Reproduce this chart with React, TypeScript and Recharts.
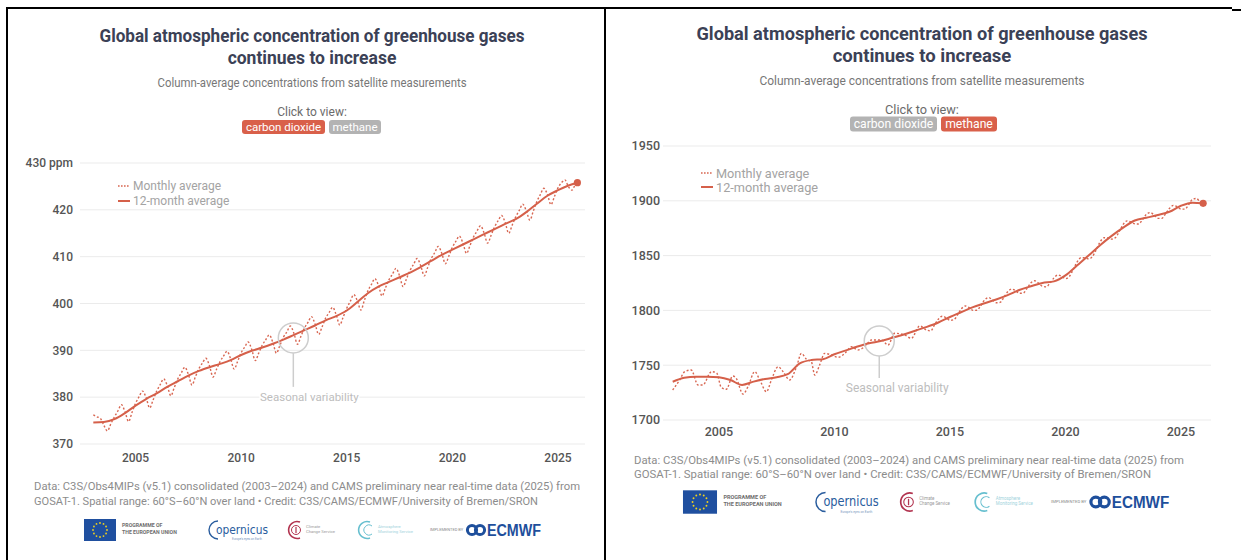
import React from 'react';
import { LineChart, Line, XAxis, YAxis, CartesianGrid, ReferenceDot, ReferenceLine } from 'recharts';

const yearTicks = [2005, 2010, 2015, 2020, 2025];
const co2Ticks = [370, 380, 390, 400, 410, 420, 430];
const ch4Ticks = [1700, 1750, 1800, 1850, 1900, 1950];

// [decimal year, ppm]
const co2Monthly: [number, number][] = [
  [2003.0, 376.2], [2003.17, 375.8], [2003.33, 375.5], [2003.5, 374.0], [2003.67, 372.8], [2003.83, 374.3],
  [2004.0, 375.8], [2004.17, 377.1], [2004.33, 378.4], [2004.5, 376.9], [2004.67, 374.8], [2004.83, 376.7],
  [2005.0, 378.7], [2005.17, 380.1], [2005.33, 381.3], [2005.5, 379.9], [2005.67, 377.7], [2005.83, 379.4],
  [2006.0, 381.3], [2006.17, 382.7], [2006.33, 383.9], [2006.5, 382.5], [2006.67, 380.3], [2006.83, 382.0],
  [2007.0, 383.9], [2007.17, 385.2], [2007.33, 386.4], [2007.5, 384.9], [2007.67, 382.6], [2007.83, 384.3],
  [2008.0, 386.1], [2008.17, 387.3], [2008.33, 388.3], [2008.5, 386.7], [2008.67, 384.3], [2008.83, 385.9],
  [2009.0, 387.6], [2009.17, 388.8], [2009.33, 389.8], [2009.5, 388.2], [2009.67, 386.0], [2009.83, 387.6],
  [2010.0, 389.5], [2010.17, 390.7], [2010.33, 391.8], [2010.5, 390.2], [2010.67, 387.8], [2010.83, 389.4],
  [2011.0, 391.1], [2011.17, 392.3], [2011.33, 393.3], [2011.5, 391.7], [2011.67, 389.4], [2011.83, 391.0],
  [2012.0, 392.8], [2012.17, 394.0], [2012.33, 395.2], [2012.5, 393.6], [2012.67, 391.3], [2012.83, 393.0],
  [2013.0, 394.8], [2013.17, 396.0], [2013.33, 397.2], [2013.5, 395.6], [2013.67, 393.4], [2013.83, 395.0],
  [2014.0, 396.9], [2014.17, 398.1], [2014.33, 399.2], [2014.5, 397.6], [2014.67, 395.4], [2014.83, 397.1],
  [2015.0, 399.0], [2015.17, 400.5], [2015.33, 401.9], [2015.5, 400.6], [2015.67, 398.6], [2015.83, 400.6],
  [2016.0, 402.7], [2016.17, 404.1], [2016.33, 405.3], [2016.5, 403.9], [2016.67, 401.6], [2016.83, 403.3],
  [2017.0, 405.1], [2017.17, 406.3], [2017.33, 407.5], [2017.5, 405.9], [2017.67, 403.6], [2017.83, 405.3],
  [2018.0, 407.1], [2018.17, 408.4], [2018.33, 409.6], [2018.5, 408.1], [2018.67, 405.9], [2018.83, 407.7],
  [2019.0, 409.6], [2019.17, 410.9], [2019.33, 412.2], [2019.5, 410.7], [2019.67, 408.5], [2019.83, 410.1],
  [2020.0, 412.0], [2020.17, 413.3], [2020.33, 414.4], [2020.5, 412.9], [2020.67, 410.7], [2020.83, 412.3],
  [2021.0, 414.2], [2021.17, 415.5], [2021.33, 416.6], [2021.5, 415.1], [2021.67, 412.9], [2021.83, 414.5],
  [2022.0, 416.4], [2022.17, 417.7], [2022.33, 418.8], [2022.5, 417.3], [2022.67, 415.0], [2022.83, 416.7],
  [2023.0, 418.5], [2023.17, 419.9], [2023.33, 421.2], [2023.5, 419.8], [2023.67, 417.8], [2023.83, 419.7],
  [2024.0, 421.8], [2024.17, 423.3], [2024.33, 424.6], [2024.5, 423.3], [2024.67, 421.1], [2024.83, 422.8],
  [2025.0, 424.7], [2025.17, 425.8], [2025.33, 426.4], [2025.5, 424.9], [2025.67, 424.2], [2025.83, 425.5],
  [2025.92, 425.7],
];

const co2Annual: [number, number][] = [
  [2003.0, 374.6], [2003.5, 374.7], [2004.0, 375.3], [2004.5, 376.6], [2005.0, 378.2], [2005.5, 379.6],
  [2006.0, 380.8], [2006.5, 382.2], [2007.0, 383.4], [2007.5, 384.6], [2008.0, 385.6], [2008.5, 386.4],
  [2009.0, 387.1], [2009.5, 387.9], [2010.0, 389.0], [2010.5, 389.9], [2011.0, 390.6], [2011.5, 391.4],
  [2012.0, 392.3], [2012.5, 393.3], [2013.0, 394.3], [2013.5, 395.3], [2014.0, 396.4], [2014.5, 397.3],
  [2015.0, 398.5], [2015.5, 400.3], [2016.0, 402.2], [2016.5, 403.6], [2017.0, 404.6], [2017.5, 405.6],
  [2018.0, 406.6], [2018.5, 407.8], [2019.0, 409.1], [2019.5, 410.4], [2020.0, 411.5], [2020.5, 412.6],
  [2021.0, 413.7], [2021.5, 414.8], [2022.0, 415.9], [2022.5, 417.0], [2023.0, 418.0], [2023.5, 419.5],
  [2024.0, 421.3], [2024.5, 423.0], [2025.0, 424.2], [2025.5, 425.2], [2025.92, 425.8],
];

// [decimal year, ppb]
const ch4Monthly: [number, number][] = [
  [2003.0, 1727.4], [2003.3, 1736.5], [2003.52, 1744.1], [2003.8, 1745.6], [2004.1, 1731.9], [2004.3, 1731.9],
  [2004.68, 1744.1], [2004.9, 1743.0], [2005.1, 1729.8], [2005.32, 1728.0], [2005.6, 1740.1], [2005.75, 1738.0],
  [2006.04, 1723.7], [2006.26, 1730.4], [2006.55, 1744.1], [2006.77, 1736.5], [2007.06, 1725.8], [2007.27, 1736.5],
  [2007.56, 1748.6], [2007.78, 1744.1], [2008.06, 1736.5], [2008.36, 1748.6], [2008.57, 1760.8], [2008.79, 1755.4],
  [2009.0, 1753.2], [2009.15, 1741.0], [2009.36, 1750.2], [2009.58, 1760.8], [2009.87, 1759.3], [2010.16, 1757.2],
  [2010.45, 1760.8], [2010.74, 1766.9], [2011.02, 1763.9], [2011.31, 1766.9], [2011.6, 1773.0], [2012.03, 1773.0],
  [2012.32, 1768.4], [2012.61, 1779.1], [2013.04, 1777.6], [2013.33, 1774.5], [2013.69, 1785.8], [2014.0, 1782.0],
  [2014.17, 1781.3], [2014.33, 1786.7], [2014.5, 1792.0], [2014.67, 1794.7], [2014.83, 1793.3],
  [2015.0, 1791.0], [2015.17, 1791.5], [2015.33, 1796.0], [2015.5, 1801.5], [2015.67, 1804.0], [2015.83, 1802.5],
  [2016.0, 1800.0], [2016.17, 1800.2], [2016.33, 1804.3], [2016.5, 1809.5], [2016.67, 1811.7], [2016.83, 1809.8],
  [2017.0, 1807.0], [2017.17, 1807.3], [2017.33, 1811.7], [2017.5, 1817.0], [2017.67, 1819.5], [2017.83, 1818.1],
  [2018.0, 1815.6], [2018.17, 1815.7], [2018.33, 1819.9], [2018.5, 1825.0], [2018.67, 1827.0], [2018.83, 1825.0],
  [2019.0, 1822.0], [2019.17, 1821.5], [2019.33, 1825.0], [2019.5, 1829.5], [2019.67, 1832.3], [2019.83, 1831.2],
  [2020.0, 1829.0], [2020.17, 1831.0], [2020.33, 1837.0], [2020.5, 1844.0], [2020.67, 1848.0], [2020.83, 1848.0],
  [2021.0, 1847.0], [2021.17, 1849.2], [2021.33, 1855.3], [2021.5, 1862.5], [2021.67, 1866.3], [2021.83, 1866.2],
  [2022.0, 1865.0], [2022.17, 1866.5], [2022.33, 1872.0], [2022.5, 1878.5], [2022.67, 1881.7], [2022.83, 1880.8],
  [2023.0, 1879.0], [2023.17, 1878.8], [2023.33, 1882.7], [2023.5, 1887.5], [2023.67, 1889.3], [2023.83, 1887.2],
  [2024.0, 1884.0], [2024.17, 1884.0], [2024.33, 1888.0], [2024.5, 1893.0], [2024.67, 1895.8], [2024.83, 1894.7],
  [2025.0, 1892.5], [2025.17, 1892.4], [2025.33, 1896.4], [2025.5, 1901.3], [2025.67, 1902.1], [2025.83, 1898.9],
  [2025.96, 1897.7],
];

const ch4Annual: [number, number][] = [
  [2003.0, 1734.9], [2003.5, 1738.5], [2004.0, 1739.5], [2004.5, 1739.5], [2005.0, 1739.0], [2005.5, 1736.5],
  [2006.0, 1732.0], [2006.5, 1735.0], [2007.0, 1737.5], [2007.5, 1739.0], [2008.0, 1742.0], [2008.5, 1751.7],
  [2009.0, 1754.7], [2009.5, 1755.5], [2010.0, 1760.0], [2010.5, 1763.5], [2011.0, 1767.0], [2011.5, 1770.0],
  [2012.0, 1772.0], [2012.5, 1775.0], [2013.0, 1778.0], [2013.5, 1781.5], [2014.0, 1785.0], [2014.5, 1789.0],
  [2015.0, 1794.0], [2015.5, 1798.5], [2016.0, 1803.0], [2016.5, 1806.5], [2017.0, 1810.0], [2017.5, 1814.0],
  [2018.0, 1818.6], [2018.5, 1822.0], [2019.0, 1825.0], [2019.5, 1826.5], [2020.0, 1832.0], [2020.5, 1841.0],
  [2021.0, 1850.0], [2021.5, 1859.5], [2022.0, 1868.0], [2022.5, 1875.5], [2023.0, 1882.0], [2023.5, 1884.5],
  [2024.0, 1887.0], [2024.5, 1890.0], [2025.0, 1895.5], [2025.5, 1898.3], [2025.96, 1897.7],
];

const RED = '#d5604a';
const DOT_RED = '#d86752';
const FONT = 'Roboto, "Noto Sans", sans-serif';

const rows = (pairs: [number, number][]) => pairs.map(([t, v]) => ({ t, v }));

type Note = { circle: [number, number]; stem: [number, number, number]; label: [number, number] };

type ChartProps = {
  left: number;
  width: number;
  height: number;
  margin: { top: number; right: number; bottom: number; left: number };
  yWidth: number;
  xDomain: [number, number];
  yDomain: [number, number];
  yTicks: number[];
  unit?: string;
  monthly: [number, number][];
  annual: [number, number][];
  note: Note;
  xTickMargin: number;
  yTickMargin: number;
  fs: number;
};

const GasChart: React.FC<ChartProps> = (p) => {
  const last = p.annual[p.annual.length - 1];
  const tickStyle = { fill: '#555', fontSize: p.fs, fontWeight: 500, fontFamily: FONT };
  return (
    <div style={{ position: 'absolute', left: p.left, top: 0 }}>
      <LineChart width={p.width} height={p.height} margin={p.margin}>
        <CartesianGrid horizontal vertical={false} stroke="#ebebeb" />
        <XAxis
          type="number"
          dataKey="t"
          domain={p.xDomain}
          ticks={yearTicks}
          allowDataOverflow
          axisLine={false}
          tickLine={false}
          tickSize={0}
          tickMargin={p.xTickMargin}
          height={30}
          tick={tickStyle}
        />
        <YAxis
          type="number"
          domain={p.yDomain}
          ticks={p.yTicks}
          allowDataOverflow
          axisLine={false}
          tickLine={false}
          tickSize={0}
          tickMargin={p.yTickMargin}
          width={p.yWidth}
          tick={tickStyle}
          tickFormatter={(v: number) => (p.unit && v === p.yDomain[1] ? `${v} ${p.unit}` : `${v}`)}
        />
        <ReferenceDot x={p.note.circle[0]} y={p.note.circle[1]} r={15} fill="none" stroke="#cdcdcd" strokeWidth={1.5} />
        <ReferenceLine
          segment={[{ x: p.note.stem[0], y: p.note.stem[1] }, { x: p.note.stem[0], y: p.note.stem[2] }]}
          stroke="#cdcdcd"
          strokeWidth={1.5}
        />
        <ReferenceDot
          x={p.note.label[0]}
          y={p.note.label[1]}
          r={0}
          shape={(s: any) => (
            <g>
              <rect x={s.cx - 50} y={s.cy - 7} width={100} height={14} fill="#fff" />
              <text x={s.cx} y={s.cy} textAnchor="middle" dominantBaseline="central" fontSize={p.fs - 0.5} fill="#bdbdbd" fontFamily={FONT}>
                Seasonal variability
              </text>
            </g>
          )}
        />
        <Line
          data={rows(p.monthly)}
          dataKey="v"
          type="monotone"
          stroke={DOT_RED}
          strokeWidth={1.4}
          strokeDasharray="2 2"
          dot={false}
          isAnimationActive={false}
        />
        <Line
          data={rows(p.annual)}
          dataKey="v"
          type="monotone"
          stroke={RED}
          strokeWidth={2}
          dot={false}
          isAnimationActive={false}
        />
        <ReferenceDot x={last[0]} y={last[1]} r={3.6} fill={RED} stroke="none" />
      </LineChart>
    </div>
  );
};

type HeaderProps = {
  cx: number;
  s: number;
  t1: number;
  t2: number;
  titleW: number;
  subY: number;
  subW: number;
  clickY: number;
  btnY: number;
  active: 'co2' | 'ch4';
  btns: [number, number, number, number];
  legX: number;
  legY: [number, number];
  footX: number;
  footY: [number, number];
  footW: [number, number];
};

const Header: React.FC<HeaderProps> = (h) => {
  const on = '#d9604a';
  const off = '#b3b3b3';
  const bh = 14 * h.s;
  return (
    <g fontFamily={FONT}>
      <text x={h.cx} y={h.t1} textAnchor="middle" dominantBaseline="central" fontSize={17.5 * h.s} fontWeight={700} fill="#3b4156" textLength={h.titleW} lengthAdjust="spacingAndGlyphs">
        Global atmospheric concentration of greenhouse gases
      </text>
      <text x={h.cx} y={h.t2} textAnchor="middle" dominantBaseline="central" fontSize={17.5 * h.s} fontWeight={700} fill="#3b4156">
        continues to increase
      </text>
      <text x={h.cx} y={h.subY} textAnchor="middle" dominantBaseline="central" fontSize={12 * h.s} fill="#777" textLength={h.subW} lengthAdjust="spacingAndGlyphs">
        Column-average concentrations from satellite measurements
      </text>
      <text x={h.cx} y={h.clickY} textAnchor="middle" dominantBaseline="central" fontSize={12 * h.s} fill="#6b6b6b">
        Click to view:
      </text>
      <rect x={h.btns[0]} y={h.btnY - bh / 2} width={h.btns[1] - h.btns[0]} height={bh} rx={3} fill={h.active === 'co2' ? on : off} />
      <text x={(h.btns[0] + h.btns[1]) / 2} y={h.btnY} textAnchor="middle" dominantBaseline="central" fontSize={11.5 * h.s} fill="#fff">
        carbon dioxide
      </text>
      <rect x={h.btns[2]} y={h.btnY - bh / 2} width={h.btns[3] - h.btns[2]} height={bh} rx={3} fill={h.active === 'ch4' ? on : off} />
      <text x={(h.btns[2] + h.btns[3]) / 2} y={h.btnY} textAnchor="middle" dominantBaseline="central" fontSize={11.5 * h.s} fill="#fff">
        methane
      </text>

      <line x1={h.legX} x2={h.legX + 12} y1={h.legY[0]} y2={h.legY[0]} stroke={DOT_RED} strokeWidth={1.3} strokeDasharray="1.6 1.4" />
      <text x={h.legX + 15} y={h.legY[0]} dominantBaseline="central" fontSize={12 * h.s} fill="#a3a3a3">
        Monthly average
      </text>
      <line x1={h.legX} x2={h.legX + 12} y1={h.legY[1]} y2={h.legY[1]} stroke={RED} strokeWidth={2} />
      <text x={h.legX + 15} y={h.legY[1]} dominantBaseline="central" fontSize={12 * h.s} fill="#a3a3a3">
        12-month average
      </text>

      <text x={h.footX} y={h.footY[0]} dominantBaseline="central" fontSize={11.5} fill="#8c8c8c" textLength={h.footW[0]} lengthAdjust="spacingAndGlyphs">
        Data: C3S/Obs4MIPs (v5.1) consolidated (2003–2024) and CAMS preliminary near real-time data (2025) from
      </text>
      <text x={h.footX} y={h.footY[1]} dominantBaseline="central" fontSize={11.5} fill="#8c8c8c" textLength={h.footW[1]} lengthAdjust="spacingAndGlyphs">
        GOSAT-1. Spatial range: 60°S–60°N over land • Credit: C3S/CAMS/ECMWF/University of Bremen/SRON
      </text>
    </g>
  );
};

const starAngles = [0, 30, 60, 90, 120, 150, 180, 210, 240, 270, 300, 330];

// logo strip drawn in left-panel coordinates, centre line y = 530
const Logos: React.FC<{ transform?: string }> = ({ transform }) => (
  <g transform={transform} fontFamily={FONT}>
    <rect x={84} y={519} width={32} height={22} fill="#1f4f9f" />
    {starAngles.map((a) => (
      <circle key={a} cx={100 + 7 * Math.cos((a * Math.PI) / 180)} cy={530 + 7 * Math.sin((a * Math.PI) / 180)} r={0.9} fill="#f2d21b" />
    ))}
    <text x={122} y={527} fontSize={5.2} fontWeight={700} fill="#6e6e6e">PROGRAMME OF</text>
    <text x={122} y={534} fontSize={5.2} fontWeight={700} fill="#6e6e6e">THE EUROPEAN UNION</text>

    <path d="M218 521 A9 9 0 1 0 218 539" fill="none" stroke="#2a5d9e" strokeWidth={1.4} />
    <text x={216} y={534} fontSize={12.5} fill="#2a5d9e" fontFamily='"DejaVu Sans", sans-serif' textLength={52} lengthAdjust="spacingAndGlyphs">opernicus</text>
    <text x={232} y={540} fontSize={3} fill="#7a98c0">Europe's eyes on Earth</text>

    <path d="M300 522 A8.5 8.5 0 1 0 300 538" fill="none" stroke="#b2334f" strokeWidth={1.6} />
    <circle cx={296} cy={530} r={4.5} fill="none" stroke="#b2334f" strokeWidth={1} />
    <line x1={296} x2={296} y1={527} y2={533} stroke="#b2334f" strokeWidth={1.2} />
    <text x={306} y={528} fontSize={4.2} fill="#9a9a9a">Climate</text>
    <text x={306} y={533} fontSize={4.2} fill="#9a9a9a">Change Service</text>

    <path d="M370 522 A8.5 8.5 0 1 0 370 538" fill="none" stroke="#66bfcf" strokeWidth={1.6} />
    <path d="M372 526 A5 5 0 1 0 372 534" fill="none" stroke="#66bfcf" strokeWidth={1} />
    <text x={378} y={528} fontSize={4.2} fill="#9fd3dc">Atmosphere</text>
    <text x={378} y={533} fontSize={4.2} fill="#9fd3dc">Monitoring Service</text>

    <text x={430} y={531} fontSize={4} fill="#8a8a8a">IMPLEMENTED BY</text>
    <circle cx={472} cy={530} r={4.6} fill="none" stroke="#1e4f9c" strokeWidth={3} />
    <circle cx={480} cy={530} r={4.6} fill="none" stroke="#1e4f9c" strokeWidth={3} />
    <text x={487} y={530} dominantBaseline="central" fontSize={16} fontWeight={700} fill="#1e4f9c" fontFamily='"Liberation Sans", Arial, sans-serif' textLength={54} lengthAdjust="spacingAndGlyphs">
      ECMWF
    </text>
  </g>
);

const App: React.FC = () => (
  <div style={{ position: 'relative', width: 1241, height: 560, background: '#fff', overflow: 'hidden', fontFamily: FONT }}>
    <style>{`body{margin:0}`}</style>

    {/* frame lines from the screenshot collage */}
    <div style={{ position: 'absolute', left: 6, top: 7, width: 1226, height: 2, background: '#000' }} />
    <div style={{ position: 'absolute', left: 1232, top: 9, width: 9, height: 2, background: '#000' }} />
    <div style={{ position: 'absolute', left: 6, top: 7, width: 2, height: 553, background: '#000' }} />
    <div style={{ position: 'absolute', left: 604, top: 7, width: 2, height: 553, background: '#000' }} />

    <svg width={1241} height={560} style={{ position: 'absolute', left: 0, top: 0 }}>
      <Header
        cx={312} s={1} t1={36} t2={58} titleW={425} subY={83} subW={309} clickY={112} btnY={127}
        active="co2" btns={[242, 325, 329, 381]} legX={118} legY={[186, 201]}
        footX={34} footY={[486, 501]} footW={[546, 504]}
      />
      <Header
        cx={922} s={1.06} t1={34} t2={56} titleW={451} subY={80} subW={325} clickY={109} btnY={124}
        active="ch4" btns={[850, 937, 941, 997]} legX={701} legY={[173, 187]}
        footX={634} footY={[460, 474]} footW={[550, 517]}
      />
      <Logos />
      <Logos transform="translate(593.6,-61.9) scale(1.064)" />
    </svg>

    <GasChart
      left={0} width={605} height={480} margin={{ top: 163, right: 20, bottom: 6, left: 20 }} yWidth={60}
      xDomain={[2002.37, 2026.28]} yDomain={[370, 430]} yTicks={co2Ticks} unit="ppm"
      monthly={co2Monthly} annual={co2Annual}
      note={{ circle: [2012.47, 392.65], stem: [2012.47, 389.4, 382.2], label: [2013.23, 380] }}
      xTickMargin={9} yTickMargin={7} fs={12}
    />
    <GasChart
      left={605} width={636} height={460} margin={{ top: 146, right: 30, bottom: 10, left: 8 }} yWidth={50}
      xDomain={[2002.58, 2026.3]} yDomain={[1700, 1950]} yTicks={ch4Ticks}
      monthly={ch4Monthly} annual={ch4Annual}
      note={{ circle: [2011.94, 1772.1], stem: [2011.94, 1758.4, 1738.3], label: [2012.72, 1729.2] }}
      xTickMargin={7} yTickMargin={3} fs={12.5}
    />
  </div>
);

export default App;
